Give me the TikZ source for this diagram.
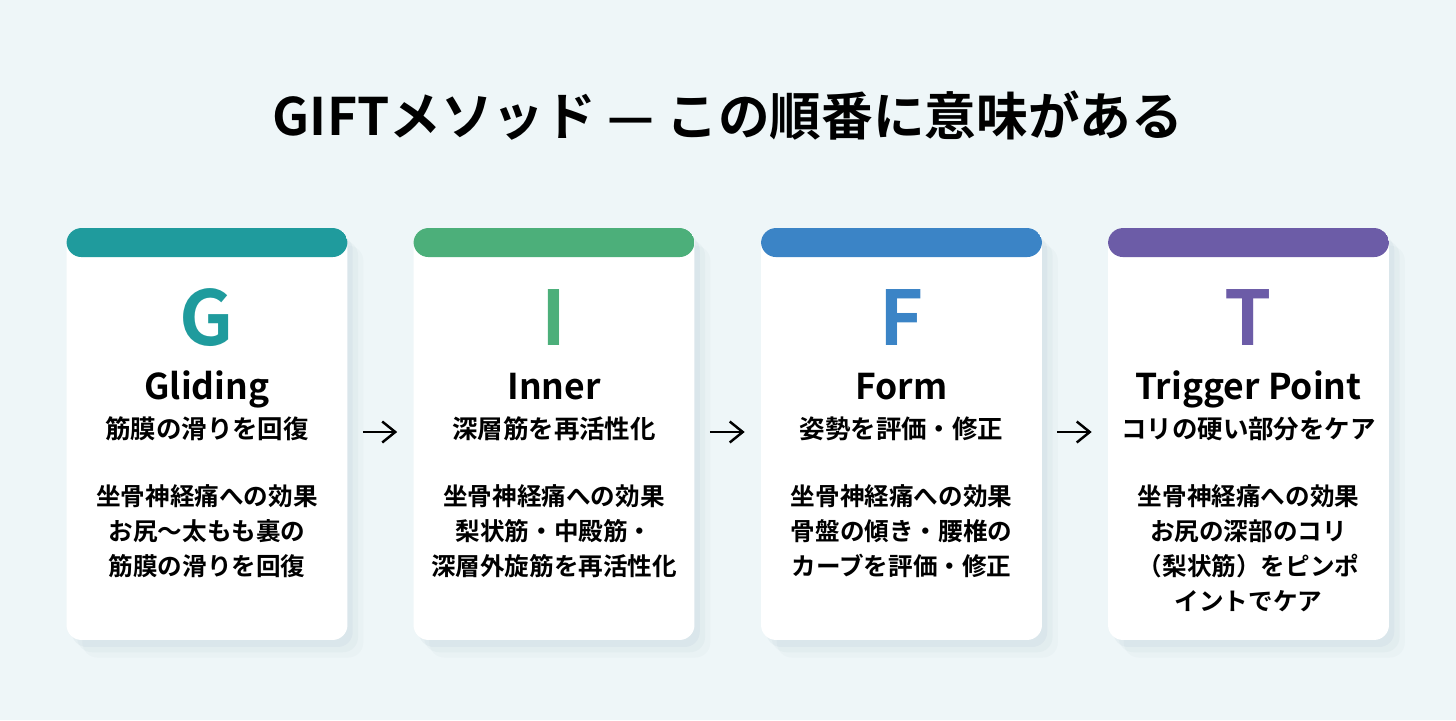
\documentclass[tikz,border=0pt]{standalone}
\usepackage{fontspec}
\setmainfont{Noto Sans CJK JP}[BoldFont={Noto Sans CJK JP Bold}]
\usetikzlibrary{arrows.meta,positioning}
\definecolor{BgLight}{RGB}{238,246,248}
\definecolor{ShadowSlate}{RGB}{120,150,165}
\definecolor{GTeal}{RGB}{31,155,157}
\definecolor{IGreen}{RGB}{76,175,122}
\definecolor{FBlue}{RGB}{59,132,198}
\definecolor{TPurple}{RGB}{108,92,167}

\begin{document}
\begin{tikzpicture}[x=0.02cm,y=-0.02cm,
    card/.style={rectangle,rounded corners=0.3cm,fill=white,inner sep=0pt,
                 minimum width=5.62cm,minimum height=8.24cm,
                 preaction={fill=ShadowSlate,fill opacity=0.07,
                            transform canvas={xshift=3pt,yshift=-4pt}},
                 preaction={fill=ShadowSlate,fill opacity=0.05,
                            transform canvas={xshift=6pt,yshift=-7pt}},
                 preaction={fill=ShadowSlate,fill opacity=0.04,
                            transform canvas={xshift=9pt,yshift=-10pt}},
                 path picture={\fill[#1] (path picture bounding box.north west)
                   rectangle ([yshift=-0.58cm]path picture bounding box.north east);}},
    cardletter/.style={font=\bfseries\fontsize{43}{43}\selectfont,text=#1,anchor=base},
    cardname/.style={font=\bfseries\fontsize{20.2}{22}\selectfont,anchor=base},
    cardsub/.style={font=\bfseries\fontsize{14.5}{16}\selectfont,anchor=base},
    cardbody/.style={font=\bfseries\fontsize{14}{20}\selectfont,align=center,anchor=north},
    flowarrow/.style={line width=1.4pt,-{Straight Barb[length=0.26cm,width=0.42cm]}}
  ]
  % background
  \fill[BgLight] (0,0) rectangle (1456,720);
  \useasboundingbox (0,0) rectangle (1456,720);

  \node[font=\bfseries\fontsize{29.4}{31}\selectfont,anchor=base] (title) at (728,135)
    {GIFTメソッド — この順番に意味がある};

  % cards
  \node[card=GTeal]   (g) at (207,434) {};
  \node[card=IGreen]  (i) at (554,434) {};
  \node[card=FBlue]   (f) at (901.5,434) {};
  \node[card=TPurple] (t) at (1248.5,434) {};

  % G
  \node[cardletter=GTeal] (gL) at (207,345) {G};
  \node[cardname] (gN) at (207,399) {Gliding};
  \node[cardsub] (gS) at (207,438) {筋膜の滑りを回復};
  \node[cardbody] (gB) at (207,478) {坐骨神経痛への効果\\お尻〜太もも裏の\\筋膜の滑りを回復};

  % I
  \node[cardletter=IGreen] (iL) at (554,345) {I};
  \node[cardname] (iN) at (554,399) {Inner};
  \node[cardsub] (iS) at (554,438) {深層筋を再活性化};
  \node[cardbody] (iB) at (554,478) {坐骨神経痛への効果\\梨状筋・中殿筋・\\深層外旋筋を再活性化};

  % F
  \node[cardletter=FBlue] (fL) at (901.5,345) {F};
  \node[cardname] (fN) at (901.5,399) {Form};
  \node[cardsub] (fS) at (901.5,438) {姿勢を評価・修正};
  \node[cardbody] (fB) at (901.5,478) {坐骨神経痛への効果\\骨盤の傾き・腰椎の\\カーブを評価・修正};

  % T
  \node[cardletter=TPurple] (tL) at (1248.5,345) {T};
  \node[cardname] (tN) at (1248.5,399) {Trigger Point};
  \node[cardsub] (tS) at (1248.5,438) {コリの硬い部分をケア};
  \node[cardbody] (tB) at (1248.5,478) {坐骨神経痛への効果\\お尻の深部のコリ\\（梨状筋）をピンポ\\イントでケア};

  \draw[flowarrow] ([xshift=0.3cm,yshift=0.04cm]g.east) -- ([xshift=-0.32cm,yshift=0.04cm]i.west);
  \draw[flowarrow] ([xshift=0.3cm,yshift=0.04cm]i.east) -- ([xshift=-0.32cm,yshift=0.04cm]f.west);
  \draw[flowarrow] ([xshift=0.3cm,yshift=0.04cm]f.east) -- ([xshift=-0.32cm,yshift=0.04cm]t.west);
\end{tikzpicture}
\end{document}
